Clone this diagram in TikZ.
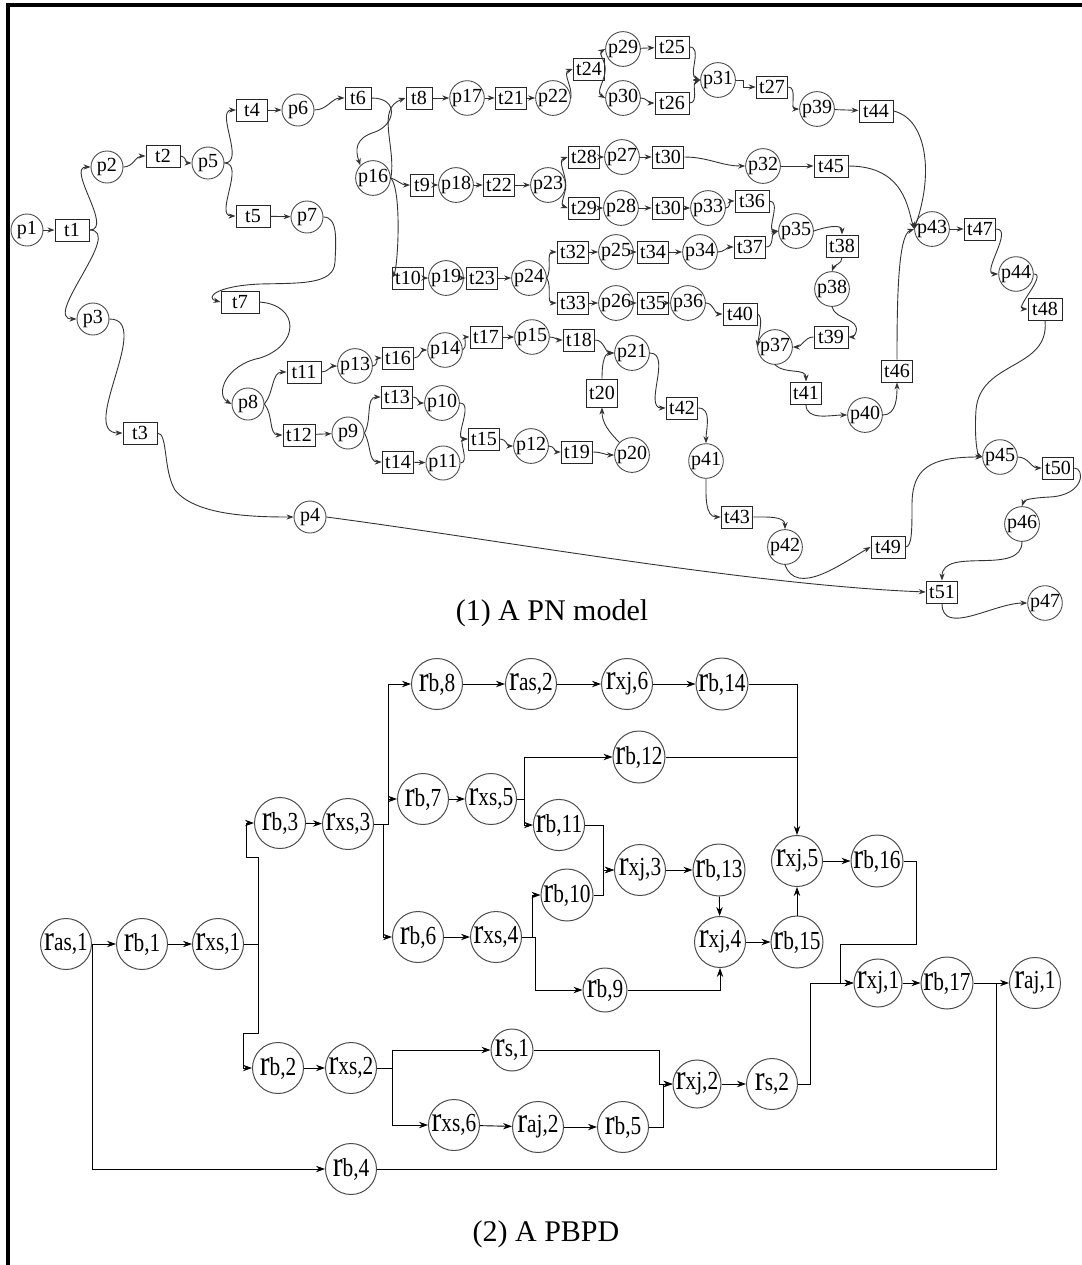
\documentclass[tikz,border=0pt]{standalone}
\usepackage{fontspec}
\usepackage{graphicx}
\setmainfont{Liberation Serif}
\newfontfamily\pbfont[FakeStretch=0.82]{Liberation Serif}
\usetikzlibrary{arrows.meta}
% resource label: large r followed by its index
\newcommand\rlab[1]{{\fontsize{18}{18}\selectfont r}{\fontsize{13}{13}\selectfont #1}}
\tikzset{
  pl/.style={circle,draw=black!70,line width=0.45pt,minimum size=16pt,inner sep=0pt,
             font=\fontsize{10}{10}\selectfont},
  tr/.style={rectangle,draw=black!85,line width=0.5pt,minimum height=11pt,
             minimum width=14.5pt,inner sep=1.5pt,font=\fontsize{10}{10}\selectfont},
  nw/.style={minimum width=13pt},
  ww/.style={minimum width=17pt},
  arc/.style={draw=black!80,line width=0.45pt,-{Stealth[length=3.5pt,width=2.6pt]}},
  rn/.style={circle,draw=black!70,line width=0.5pt,minimum size=25.5pt,inner sep=0pt,
             font=\pbfont},
  flow/.style={draw=black,line width=0.45pt,-{Stealth[length=4.5pt,width=3.2pt]}},
  link/.style={draw=black,line width=0.45pt},
  ttl/.style={font=\fontsize{15}{15}\selectfont,inner sep=0pt}
}
\begin{document}
\begin{tikzpicture}[x=0.5pt,y=-0.5pt]
\useasboundingbox (0,0) rectangle (1082,1265);
% frame
\draw[line width=1.6pt] (8,1270) -- (8,5) -- (1090,5);

% ---------------- (1) Petri net ----------------
\node[pl] (p1) at (27,230) {p1};
\node[tr,ww] (t1) at (72,230) {t1};
\node[pl] (p2) at (107,167) {p2};
\node[tr,ww] (t2) at (163,156) {t2};
\node[pl] (p5) at (208,163) {p5};
\node[tr,minimum width=15.5pt] (t4) at (252,110) {t4};
\node[pl] (p6) at (298,110) {p6};
\node[tr,nw] (t6) at (358,98) {t6};
\node[pl] (p16) at (373,178) {p16};
\node[tr,ww] (t5) at (253,216) {t5};
\node[pl] (p7) at (307,217) {p7};
\node[pl] (p3) at (93,319) {p3};
\node[tr,ww] (t3) at (140,433) {t3};
\node[pl] (p4) at (310,517) {p4};
\node[tr,minimum width=19pt] (t7) at (240,302) {t7};
\node[pl] (p8) at (248,404) {p8};
\node[tr,ww] (t11) at (304,372) {t11};
\node[pl] (p13) at (355,366) {p13};
\node[tr,minimum width=16pt] (t12) at (299,435) {t12};
\node[pl] (p9) at (348,433) {p9};
\node[tr] (t16) at (398,358) {t16};
\node[pl] (p14) at (445,350) {p14};
\node[tr,minimum width=16pt] (t17) at (486,337) {t17};
\node[pl] (p15) at (532,337) {p15};
\node[tr] (t18) at (579,340) {t18};
\node[pl] (p21) at (632,353) {p21};
\node[tr] (t13) at (397,397) {t13};
\node[pl] (p10) at (442,403) {p10};
\node[tr] (t14) at (398,462) {t14};
\node[pl] (p11) at (443,463) {p11};
\node[tr] (t15) at (484,439) {t15};
\node[pl] (p12) at (531,446) {p12};
\node[tr] (t19) at (577,452) {t19};
\node[pl] (p20) at (632,455) {p20};
\node[tr,minimum height=14pt] (t20) at (602,393) {t20};
\node[tr] (t42) at (682,408) {t42};
\node[pl] (p41) at (706,461) {p41};
\node[tr,nw] (t43) at (737,517) {t43};
\node[pl] (p42) at (785,547) {p42};
\node[tr,ww] (t49) at (888,547) {t49};
\node[pl] (p45) at (1000,457) {p45};
\node[tr] (t50) at (1058,468) {t50};
\node[pl] (p46) at (1022,524) {p46};
\node[tr] (t51) at (942,592) {t51};
\node[pl] (p47) at (1045,603) {p47};

\node[tr,nw] (t8) at (419,98) {t8};
\node[pl] (p17) at (467,98) {p17};
\node[tr] (t21) at (511,98) {t21};
\node[pl] (p22) at (553,98) {p22};
\node[tr,nw] (t24) at (589,69) {t24};
\node[pl] (p29) at (623,49) {p29};
\node[tr,ww] (t25) at (672,47) {t25};
\node[pl] (p30) at (623,98) {p30};
\node[tr,ww] (t26) at (672,103) {t26};
\node[pl] (p31) at (718,80) {p31};
\node[tr] (t27) at (772,87) {t27};
\node[pl] (p39) at (817,109) {p39};
\node[tr,ww] (t44) at (876,111) {t44};
\node[pl] (p43) at (932,229) {p43};
\node[tr,nw] (t47) at (980,229) {t47};
\node[pl] (p44) at (1016,274) {p44};
\node[tr,ww] (t48) at (1045,309) {t48};

\node[tr,minimum width=11.5pt] (t9) at (422,185) {t9};
\node[pl] (p18) at (456,185) {p18};
\node[tr] (t22) at (499,185) {t22};
\node[pl] (p23) at (548,185) {p23};
\node[tr,nw] (t28) at (584,157) {t28};
\node[pl] (p27) at (622,157) {p27};
\node[tr,nw] (t30a) at (668,157) {t30};
\node[pl] (p32) at (763,166) {p32};
\node[tr,ww] (t45) at (831,166) {t45};
\node[tr,nw] (t29) at (584,208) {t29};
\node[pl] (p28) at (621,208) {p28};
\node[tr,nw] (t30b) at (668,208) {t30};
\node[pl] (p33) at (708,208) {p33};
\node[tr,ww] (t36) at (752,201) {t36};
\node[pl] (p35) at (796,231) {p35};
\node[tr,minimum width=16pt] (t38) at (842,246) {t38};
\node[pl] (p38) at (832,289) {p38};
\node[tr,ww] (t39) at (831,337) {t39};
\node[pl] (p37) at (775,347) {p37};
\node[tr] (t41) at (806,393) {t41};
\node[pl] (p40) at (865,415) {p40};
\node[tr] (t46) at (897,371) {t46};

\node[tr,nw] (t10) at (408,278) {t10};
\node[pl] (p19) at (446,278) {p19};
\node[tr] (t23) at (482,278) {t23};
\node[pl] (p24) at (529,278) {p24};
\node[tr,nw] (t32) at (573,252) {t32};
\node[pl] (p25) at (616,252) {p25};
\node[tr,nw] (t34) at (653,252) {t34};
\node[pl] (p34) at (700,252) {p34};
\node[tr] (t37) at (750,247) {t37};
\node[tr,nw] (t33) at (573,303) {t33};
\node[pl] (p26) at (616,303) {p26};
\node[tr,nw] (t35) at (653,303) {t35};
\node[pl] (p36) at (688,303) {p36};
\node[tr,ww] (t40) at (740,314) {t40};

\node[ttl] (cap1) at (552,613) {(1) A PN model};

% arcs of the net
\draw[arc] (p1) -- (t1);
\draw[arc] (t1.east) to[out=0,in=180] (p2.west);
\draw[arc] (t1.east) to[out=0,in=180] (p3.west);
\draw[arc] (p2.east) to[out=0,in=180] (t2.west);
\draw[arc] (t2.east) to[out=0,in=180] (p5.west);
\draw[arc] (p5.east) to[out=0,in=180] (t4.west);
\draw[arc] (p5.east) to[out=0,in=180] (t5.west);
\draw[arc] (t4) -- (p6);
\draw[arc] (p6.east) to[out=0,in=180] (t6.west);
\draw[arc] (t5) -- (p7);
\draw[arc] (t6.east) .. controls (400,98) and (395,125) .. (375,132)
                      .. controls (355,138) and (355,150) .. (p16.north west);
\draw[arc] (p7.east) .. controls (338,217) and (336,240) .. (335,262)
                     .. controls (334,285) and (300,283) .. (260,284)
                     .. controls (215,286) and (205,298) .. (t7.west);
\draw[arc] (t7.east) .. controls (300,305) and (300,345) .. (260,358)
                     .. controls (225,365) and (215,395) .. (p8.west);
\draw[arc] (p8.east) to[out=50,in=180] (t11.west);
\draw[arc] (p8.east) to[out=-50,in=180] (t12.west);
\draw[arc] (t11.east) to[out=0,in=180] (p13.west);
\draw[arc] (p13.east) to[out=0,in=180] (t16.west);
\draw[arc] (t16.east) to[out=0,in=180] (p14.west);
\draw[arc] (p14.east) to[out=30,in=180] (t17.west);
\draw[arc] (t17) -- (p15);
\draw[arc] (p15.east) to[out=0,in=180] (t18.west);
\draw[arc] (t18.east) to[out=0,in=180] (p21.west);
\draw[arc] (t12) -- (p9);
\draw[arc] (p9.east) to[out=60,in=180] (t13.west);
\draw[arc] (p9.east) to[out=-60,in=180] (t14.west);
\draw[arc] (t13.east) to[out=0,in=180] (p10.west);
\draw[arc] (t14) -- (p11);
\draw[arc] (p10.east) to[out=0,in=180] (t15.west);
\draw[arc] (p11.east) to[out=0,in=180] (t15.west);
\draw[arc] (t15.east) to[out=0,in=180] (p12.west);
\draw[arc] (p12.east) to[out=0,in=180] (t19.west);
\draw[arc] (t19.east) to[out=0,in=180] (p20.west);
\draw[arc] (p20.north west) to[out=135,in=-90] (t20.south);
\draw[arc] (t20.north) to[out=90,in=180] (p21.west);
\draw[arc] (p21.east) to[out=0,in=180] (t42.west);
\draw[arc] (t42.east) to[out=0,in=90] (p41.north);
\draw[arc] (p41.south) to[out=-90,in=180] (t43.west);
\draw[arc] (t43.east) to[out=0,in=90] (p42.north);
\draw[arc] (p42.south) to[out=-70,in=210] (t49.west);
\draw[arc] (t49.east) .. controls (912,547) and (912,530) .. (912,505)
                      .. controls (912,468) and (930,457) .. (p45.west);
\draw[arc] (p45.east) to[out=0,in=180] (t50.west);
\draw[arc] (t50.east) .. controls (1085,468) and (1085,495) .. (1050,497)
                      .. controls (1030,498) and (1024,500) .. (p46.north);
\draw[arc] (p46.south) to[out=-90,in=90] (t51.north);
\draw[arc] (t51.south) to[out=-90,in=180] (p47.west);
\draw[arc] (p3.east) to[out=0,in=180] (t3.west);
\draw[arc] (t3.east) .. controls (168,433) and (163,470) .. (175,490)
                     .. controls (195,515) and (250,517) .. (p4.west);
\draw[arc] (p4.east) .. controls (500,540) and (750,585) .. (t51.west);

\draw[arc] (p16.east) to[out=80,in=200] (t8.west);
\draw[arc] (p16.east) to[out=-20,in=180] (t9.west);
\draw[arc] (p16.east) .. controls (402,190) and (398,268) .. (t10.west);
\draw[arc] (t8) -- (p17);
\draw[arc] (p17) -- (t21);
\draw[arc] (t21) -- (p22);
\draw[arc] (p22.east) to[out=80,in=200] (t24.west);
\draw[arc] (t24.east) to[out=90,in=210] (p29.west);
\draw[arc] (t24.east) to[out=-90,in=150] (p30.west);
\draw[arc] (p29) -- (t25);
\draw[arc] (p30.east) to[out=0,in=180] (t26.west);
\draw[arc] (t25.east) to[out=0,in=160] (p31.west);
\draw[arc] (t26.east) to[out=0,in=200] (p31.west);
\draw[arc] (p31.east) -- ++(8,0) |- (t27.west);
\draw[arc] (t27.east) to[out=0,in=180] (p39.west);
\draw[arc] (p39) -- (t44);
\draw[arc] (t44.east) .. controls (925,118) and (935,170) .. (p43.west);
\draw[arc] (p43) -- (t47);
\draw[arc] (t47.east) to[out=0,in=180] (p44.west);
\draw[arc] (p44.east) to[out=0,in=180] (t48.west);
\draw[arc] (t48.south) .. controls (1050,370) and (980,360) .. (976,410)
                       .. controls (974,440) and (978,455) .. (p45.west);

\draw[arc] (t9) -- (p18);
\draw[arc] (p18) -- (t22);
\draw[arc] (t22) -- (p23);
\draw[arc] (p23.east) to[out=90,in=200] (t28.west);
\draw[arc] (p23.east) to[out=-90,in=160] (t29.west);
\draw[arc] (t28) -- (p27);
\draw[arc] (p27) -- (t30a);
\draw[arc] (t30a.east) to[out=0,in=180] (p32.west);
\draw[arc] (p32) -- (t45);
\draw[arc] (t45.east) .. controls (905,166) and (908,210) .. (p43.west);
\draw[arc] (t29) -- (p28);
\draw[arc] (p28) -- (t30b);
\draw[arc] (t30b) -- (p33);
\draw[arc] (p33.east) to[out=0,in=180] (t36.west);
\draw[arc] (t36.east) to[out=0,in=180] (p35.west);
\draw[arc] (p35.east) to[out=20,in=90] (t38.north);
\draw[arc] (t38.south) to[out=-90,in=70] (p38.north);
\draw[arc] (p38.south) .. controls (835,320) and (860,318) .. (856,332)
                       .. controls (855,336) and (852,337) .. (t39.east);
\draw[arc] (t39.west) to[out=180,in=0] (p37.east);
\draw[arc] (p37.south) to[out=-45,in=90] (t41.north);
\draw[arc] (t41.south) to[out=-90,in=180] (p40.west);
\draw[arc] (p40.east) to[out=0,in=-90] (t46.south);
\draw[arc] (t46.north) .. controls (897,300) and (898,235) .. (p43.west);

\draw[arc] (t10) -- (p19);
\draw[arc] (p19) -- (t23);
\draw[arc] (t23) -- (p24);
\draw[arc] (p24.east) to[out=60,in=180] (t32.west);
\draw[arc] (p24.east) to[out=-60,in=180] (t33.west);
\draw[arc] (t32) -- (p25);
\draw[arc] (p25) -- (t34);
\draw[arc] (t34) -- (p34);
\draw[arc] (p34.east) to[out=0,in=180] (t37.west);
\draw[arc] (t37.east) to[out=0,in=200] (p35.west);
\draw[arc] (t33) -- (p26);
\draw[arc] (p26) -- (t35);
\draw[arc] (t35) -- (p36);
\draw[arc] (p36.east) to[out=0,in=180] (t40.west);
\draw[arc] (t40.east) .. controls (763,316) and (760,330) .. (p37.west);

% ---------------- (2) PBPD ----------------
\node[rn] (ras1) at (66,944) {\rlab{as,1}};
\node[rn] (rb1) at (142,944) {\rlab{b,1}};
\node[rn] (rxs1) at (218,944) {\rlab{xs,1}};
\node[rn] (rb3) at (280,823) {\rlab{b,3}};
\node[rn] (rxs3) at (348,824) {\rlab{xs,3}};
\node[rn] (rb8) at (437,684) {\rlab{b,8}};
\node[rn] (ras2) at (531,684) {\rlab{as,2}};
\node[rn] (rxj6) at (627,684) {\rlab{xj,6}};
\node[rn] (rb14) at (722,684) {\rlab{b,14}};
\node[rn] (rb7) at (423,799) {\rlab{b,7}};
\node[rn] (rxs5) at (491,799) {\rlab{xs,5}};
\node[rn] (rb12) at (639,757) {\rlab{b,12}};
\node[rn] (rb11) at (559,825) {\rlab{b,11}};
\node[rn] (rxj3) at (640,870) {\rlab{xj,3}};
\node[rn] (rb10) at (567,895) {\rlab{b,10}};
\node[rn] (rb13) at (719,870) {\rlab{b,13}};
\node[rn] (rxj4) at (720,942) {\rlab{xj,4}};
\node[rn] (rb15) at (797,942) {\rlab{b,15}};
\node[rn] (rxj5) at (797,861) {\rlab{xj,5}};
\node[rn] (rb16) at (877,861) {\rlab{b,16}};
\node[rn] (rb6) at (418,937) {\rlab{b,6}};
\node[rn] (rxs4) at (496,937) {\rlab{xs,4}};
\node[rn,minimum size=22pt] (rb9) at (605,990) {\rlab{b,9}};
\node[rn,minimum size=23pt] (rxj1) at (878,983) {\rlab{xj,1}};
\node[rn] (rb17) at (947,983) {\rlab{b,17}};
\node[rn] (raj1) at (1035,983) {\rlab{aj,1}};
\node[rn] (rb2) at (278,1068) {\rlab{b,2}};
\node[rn] (rxs2) at (351,1068) {\rlab{xs,2}};
\node[rn,minimum size=21pt] (rs1) at (512,1050) {\rlab{s,1}};
\node[rn] (rxs6) at (454,1125) {\rlab{xs,6}};
\node[rn] (raj2) at (538,1127) {\rlab{aj,2}};
\node[rn] (rb5) at (623,1127) {\rlab{b,5}};
\node[rn,minimum size=23pt] (rxj2) at (697,1084) {\rlab{xj,2}};
\node[rn] (rs2) at (772,1084) {\rlab{s,2}};
\node[rn] (rb4) at (351,1169) {\rlab{b,4}};

\node[ttl] (cap2) at (546,1234) {(2) A PBPD};

\coordinate (jr) at (996,983);

\draw[flow] (ras1) -- (rb1);
\draw[flow] (rb1) -- (rxs1);
\draw[flow] (ras1.east) |- (rb4.west);
\draw[link] (rb4.east) -| (jr);
\draw[flow] (rxs1.east) -- (258,944) -- (258,857) -- (246,857) |- (rb3.west);
\draw[flow] (rxs1.east) -- (258,944) -- (258,1033) -- (243,1033) |- (rb2.west);
\draw[flow] (rb3) -- (rxs3);
\draw[flow] (rxs3.east) -- (388,824) |- (rb8.west);
\draw[flow] (rxs3.east) -- (388,824) |- (rb7.west);
\draw[flow] (rxs3.east) -- (383,824) |- (rb6.west);
\draw[flow] (rb8) -- (ras2);
\draw[flow] (ras2) -- (rxj6);
\draw[flow] (rxj6) -- (rb14);
\draw[flow] (rb14.east) -| (rxj5.north);
\draw[flow] (rb7) -- (rxs5);
\draw[flow] (rxs5.east) -- (524,799) |- (rb12.west);
\draw[flow] (rxs5.east) -- (524,799) |- (rb11.west);
\draw[link] (rb12.east) -- (rb12.east -| rxj5.north);
\draw[flow] (rb11.east) -- (603,825) |- (rxj3.west);
\draw[flow] (rb10.east) -- (603,895) |- (rxj3.west);
\draw[flow] (rxj3) -- (rb13);
\draw[flow] (rb13) -- (rxj4);
\draw[flow] (rxj4) -- (rb15);
\draw[flow] (rb15) -- (rxj5);
\draw[flow] (rxj5) -- (rb16);
\draw[flow] (rb16.east) -| (916,944) -| (840,983) -- (rxj1.west);
\draw[flow] (rs2.east) -- (810,1084) |- (rxj1.west);
\draw[flow] (rxj1) -- (rb17);
\draw[flow] (rb17) -- (raj1);
\draw[flow] (rb6) -- (rxs4);
\draw[flow] (rxs4.east) -- (532,937) |- (rb10.west);
\draw[flow] (rxs4.east) -- (535,937) |- (rb9.west);
\draw[flow] (rb9.east) -| (rxj4.south);
\draw[flow] (rb2) -- (rxs2);
\draw[flow] (rxs2.east) -- (392,1068) |- (rs1.west);
\draw[flow] (rxs2.east) -- (392,1068) |- (rxs6.west);
\draw[flow] (rxs6) -- (raj2);
\draw[flow] (raj2) -- (rb5);
\draw[flow] (rs1.east) -- (659,1050) |- (rxj2.west);
\draw[flow] (rb5.east) -- (663,1127) |- (rxj2.west);
\draw[flow] (rxj2) -- (rs2);
\end{tikzpicture}
\end{document}
